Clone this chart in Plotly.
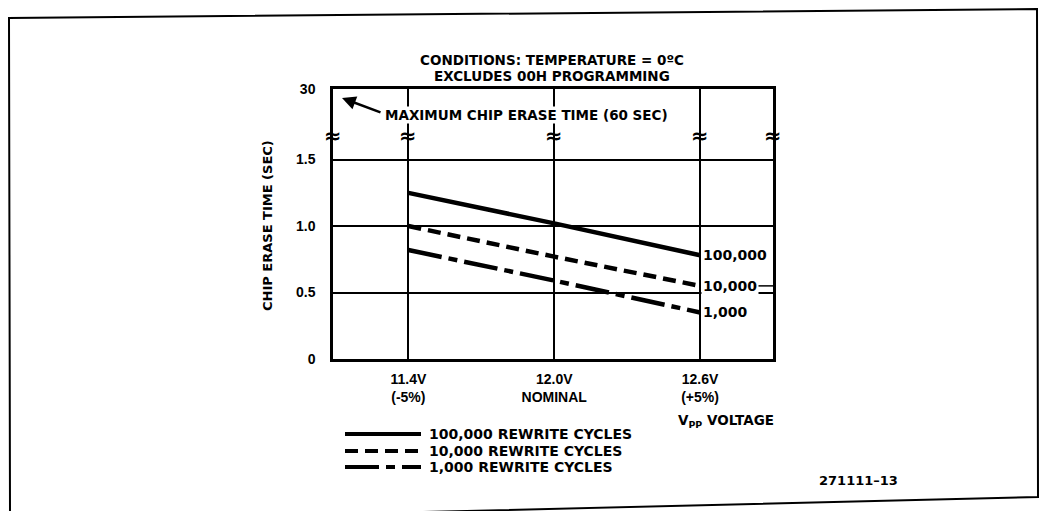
import plotly.graph_objects as go

# ---------------- data ----------------
voltages = [11.4, 12.0, 12.6]
x_tick_labels = ["11.4V<br>(-5%)", "12.0V<br>NOMINAL", "12.6V<br>(+5%)"]
series_names = ["100,000", "10,000", "1,000"]
legend_labels = ["100,000 REWRITE CYCLES", "10,000 REWRITE CYCLES", "1,000 REWRITE CYCLES"]
erase_100k = [1.25, 1.02, 0.78]
erase_10k = [1.00, 0.77, 0.55]
erase_1k = [0.82, 0.59, 0.35]
y_tick_vals = [0, 0.5, 1.0, 1.5, 2.03]
y_tick_text = ["0", "0.5", "1.0", "1.5", "30"]
break_y = 1.68
x_range = [11.09, 12.9]
y_range = [0, 2.031]

series = [erase_100k, erase_10k, erase_1k]
dashes = ["solid", "13px,7px", "34px,7px,9px,7px"]

# page body has an 8px margin: figure coordinates = screen coordinates - 8
OFF = 8
W, H = 1047 - OFF, 511 - OFF
ML = 333 - OFF
MT = 89 - OFF
MR = W - (773 - OFF)
MB = H - (359 - OFF)
PW, PH = W - ML - MR, H - MT - MB


def px(x):
    """screen pixel x -> paper fraction"""
    return (x - OFF - ML) / PW


def py(y):
    """screen pixel y -> paper fraction"""
    return (H - MB - (y - OFF)) / PH


BOLD = "DejaVu Sans"
fig = go.Figure()

for vals, name, dash in zip(series, series_names, dashes):
    fig.add_trace(go.Scatter(x=voltages, y=vals, mode="lines", name=name,
                             line=dict(color="black", width=4.5, dash=dash),
                             showlegend=False, hoverinfo="skip"))

annotations = []
# end-of-line labels
for vals, name in zip(series, series_names):
    annotations.append(dict(x=voltages[-1], y=vals[-1], xref="x", yref="y", text=f"<b>{name}</b>",
                            showarrow=False, xanchor="left", yanchor="middle", xshift=1,
                            font=dict(family=BOLD, size=14, color="black"), bgcolor="white"))

# axis breaks
for xv in [x_range[0]] + voltages + [x_range[1]]:
    annotations.append(dict(x=xv, y=break_y, xref="x", yref="y", text="<b>≈</b>", showarrow=False,
                            font=dict(family=BOLD, size=21, color="black")))

# arrow to max erase time
annotations.append(dict(x=px(342), y=py(98), xref="paper", yref="paper", text="", showarrow=True,
                        ax=40, ay=15, arrowhead=2, arrowsize=1.1, arrowwidth=2.5, arrowcolor="black"))
annotations.append(dict(x=px(384), y=py(115), xref="paper", yref="paper",
                        text="<b>MAXIMUM CHIP ERASE TIME (60 SEC)</b>", showarrow=False,
                        xanchor="left", yanchor="middle", bgcolor="white", borderpad=0,
                        font=dict(family=BOLD, size=13.5, color="black")))

# title
annotations.append(dict(x=px(552), y=py(60), xref="paper", yref="paper",
                        text="<b>CONDITIONS: TEMPERATURE = 0ºC</b>", showarrow=False,
                        xanchor="center", yanchor="middle", font=dict(family=BOLD, size=13.5, color="black")))
annotations.append(dict(x=px(552), y=py(76), xref="paper", yref="paper",
                        text="<b>EXCLUDES 00H PROGRAMMING</b>", showarrow=False,
                        xanchor="center", yanchor="middle", font=dict(family=BOLD, size=13.5, color="black")))

# y-axis title
annotations.append(dict(x=px(267), y=py(226), xref="paper", yref="paper",
                        text="<b>CHIP ERASE TIME (SEC)</b>", showarrow=False, textangle=-90,
                        xanchor="center", yanchor="middle", font=dict(family=BOLD, size=13, color="black")))

# x-axis title
annotations.append(dict(x=px(676), y=py(421), xref="paper", yref="paper",
                        text="<b>V<sub>PP</sub> VOLTAGE</b>", showarrow=False,
                        xanchor="left", yanchor="middle", font=dict(family=BOLD, size=13.5, color="black")))

# legend text
legend_y = [434, 451, 467]
for lab, ly in zip(legend_labels, legend_y):
    annotations.append(dict(x=px(427), y=py(ly), xref="paper", yref="paper", text=f"<b>{lab}</b>",
                            showarrow=False, xanchor="left", yanchor="middle",
                            font=dict(family=BOLD, size=14, color="black")))

# figure number
annotations.append(dict(x=px(858), y=py(480), xref="paper", yref="paper", text="<b>271111–13</b>",
                        showarrow=False, xanchor="center", yanchor="middle",
                        font=dict(family=BOLD, size=13, color="black")))

shapes = []
for dash, ly in zip(dashes, legend_y):
    shapes.append(dict(type="line", xref="paper", yref="paper", x0=px(345), x1=px(421),
                       y0=py(ly), y1=py(ly), line=dict(color="black", width=4, dash=dash)))
# small leader after 10,000 label
shapes.append(dict(type="line", xref="paper", yref="y", x0=px(758), x1=1.0,
                   y0=erase_10k[-1], y1=erase_10k[-1], line=dict(color="black", width=1.5)))
# outer frame (scanned, slightly skewed)
shapes.append(dict(type="path", xref="paper", yref="paper",
                   path=(f"M {px(10)},{py(515)} L {px(9)},{py(18)} L {px(1037)},{py(9)} "
                         f"L {px(1038)},{py(497)} L {px(300)},{py(515)}"),
                   line=dict(color="black", width=2)))

fig.update_layout(
    width=W, height=H,
    margin=dict(l=ML, r=MR, t=MT, b=MB),
    paper_bgcolor="white", plot_bgcolor="white",
    showlegend=False,
    annotations=annotations,
    shapes=shapes,
    xaxis=dict(range=x_range, tickvals=voltages, ticktext=[f"<b>{t}</b>" for t in x_tick_labels],
               showgrid=True, gridcolor="black", gridwidth=1.5, zeroline=False,
               showline=True, linecolor="black", linewidth=2.5, mirror=True,
               ticks="", ticklabelstandoff=5,
               tickfont=dict(family="Liberation Sans", size=14, color="black")),
    yaxis=dict(range=y_range, tickvals=y_tick_vals, ticktext=[f"<b>{t}</b>" for t in y_tick_text],
               showgrid=True, gridcolor="black", gridwidth=1.5, zeroline=False,
               showline=True, linecolor="black", linewidth=2.5, mirror=True,
               ticks="", ticklabelstandoff=12,
               tickfont=dict(family="Liberation Sans", size=14, color="black")),
)

fig.write_html("out.html")
